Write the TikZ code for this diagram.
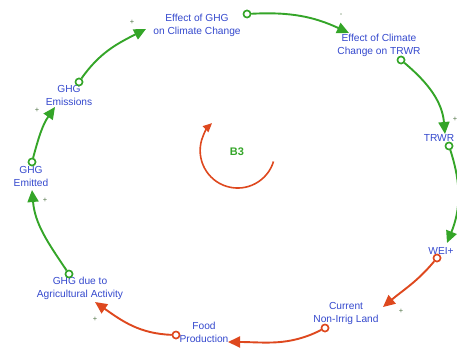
\documentclass[tikz,border=0pt]{standalone}
\usepackage{fontspec}
\setmainfont{Liberation Sans}
\usetikzlibrary{arrows.meta}
\definecolor{txtblue}{RGB}{52,72,205}
\definecolor{lgreen}{RGB}{52,165,40}
\definecolor{lred}{RGB}{222,72,30}
\definecolor{polc}{RGB}{80,115,70}
\begin{document}
\begin{tikzpicture}[x=1pt,y=-1pt,
  lbl/.style={text=txtblue, font=\fontsize{10.2}{13}\selectfont, align=center, inner sep=0pt},
  tailg/.style={circle, draw=lgreen, line width=1.5pt, fill=white, minimum size=7pt, inner sep=0pt},
  tailr/.style={circle, draw=lred, line width=1.5pt, fill=white, minimum size=7pt, inner sep=0pt},
  linkg/.style={draw=lgreen, line width=1.9pt, -{Triangle[length=12pt,width=11pt]}},
  linkr/.style={draw=lred, line width=1.9pt, -{Triangle[length=12pt,width=11pt]}},
  pol/.style={text=polc, font=\fontsize{7.5}{7.5}\selectfont, inner sep=0pt},
  looplbl/.style={text=lgreen, font=\bfseries\fontsize{11}{11}\selectfont, inner sep=0pt}]
\path[use as bounding box] (0,0) rectangle (457,353);
\clip (0,0) rectangle (457,353);

% variable names
\node[lbl] (effG) at (197,25) {Effect of GHG\\on Climate Change};
\node[lbl] (effC) at (379,45.5) {Effect of Climate\\Change on TRWR};
\node[lbl] (trwr) at (439,138) {TRWR};
\node[lbl] (wei)  at (441,251) {WEI+};
\node[lbl] (cur)  at (346,313) {Current\\Non-Irrig Land};
\node[lbl] (food) at (204,332) {Food\\Production};
\node[lbl] (agri) at (80,288) {GHG due to\\Agricultural Activity};
\node[lbl] (emit) at (31,176) {GHG\\Emitted};
\node[lbl] (emis) at (69,95) {GHG\\Emissions};

% link tails
\node[tailg] (o1) at (247,14) {};
\node[tailg] (o2) at (401,60) {};
\node[tailg] (o3) at (449,146) {};
\node[tailr] (o4) at (437,258) {};
\node[tailr] (o5) at (325,328) {};
\node[tailr] (o6) at (176,335) {};
\node[tailg] (o7) at (69,274) {};
\node[tailg] (o8) at (32,162) {};
\node[tailg] (o9) at (79,82) {};

% link heads
\coordinate (t1) at (349,33);
\coordinate (t2) at (445,134);
\coordinate (t3) at (447,243);
\coordinate (t4) at (383,307);
\coordinate (t5) at (228,342);
\coordinate (t6) at (95,302);
\coordinate (t7) at (32,190);
\coordinate (t8) at (55,107);
\coordinate (t9) at (146,29);

% causal links (out/in angles are page angles, y up)
\draw[linkg] (o1) to[out=3,in=155] (t1);
\draw[linkg] (o2) to[out=-40,in=95] (t2);
\draw[linkg] (o3) to[out=-72,in=68] (t3);
\draw[linkr] (o4) to[out=-130,in=40] (t4);
\draw[linkr] (o5) to[out=-153,in=0] (t5);
\draw[linkr] (o6) to[out=178,in=-35] (t6);
\draw[linkg] (o7) to[out=124,in=-85] (t7);
\draw[linkg] (o8) to[out=75,in=-125] (t8);
\draw[linkg] (o9) to[out=55,in=-153] (t9);

% redraw tails above the link lines
\foreach \n/\s in {o1/tailg,o2/tailg,o3/tailg,o4/tailr,o5/tailr,o6/tailr,o7/tailg,o8/tailg,o9/tailg}
  \node[\s] at (\n) {};

% polarities
\node[pol] (p1) at (341,15) {-};
\node[pol] (p2) at (455,119) {+};
\node[pol] (p3) at (401,311) {+};
\node[pol] (p4) at (95,319) {+};
\node[pol] (p5) at (45,200) {+};
\node[pol] (p6) at (37,110) {+};
\node[pol] (p7) at (132,22) {+};

% balancing loop marker
\node[looplbl] (b3) at (237,152) {B3};
\draw[draw=lred, line width=1.6pt, -{Triangle[length=9pt,width=8pt]}]
  (273.5,161.5) arc[start angle=17, end angle=227, radius=37.5];
\end{tikzpicture}
\end{document}
